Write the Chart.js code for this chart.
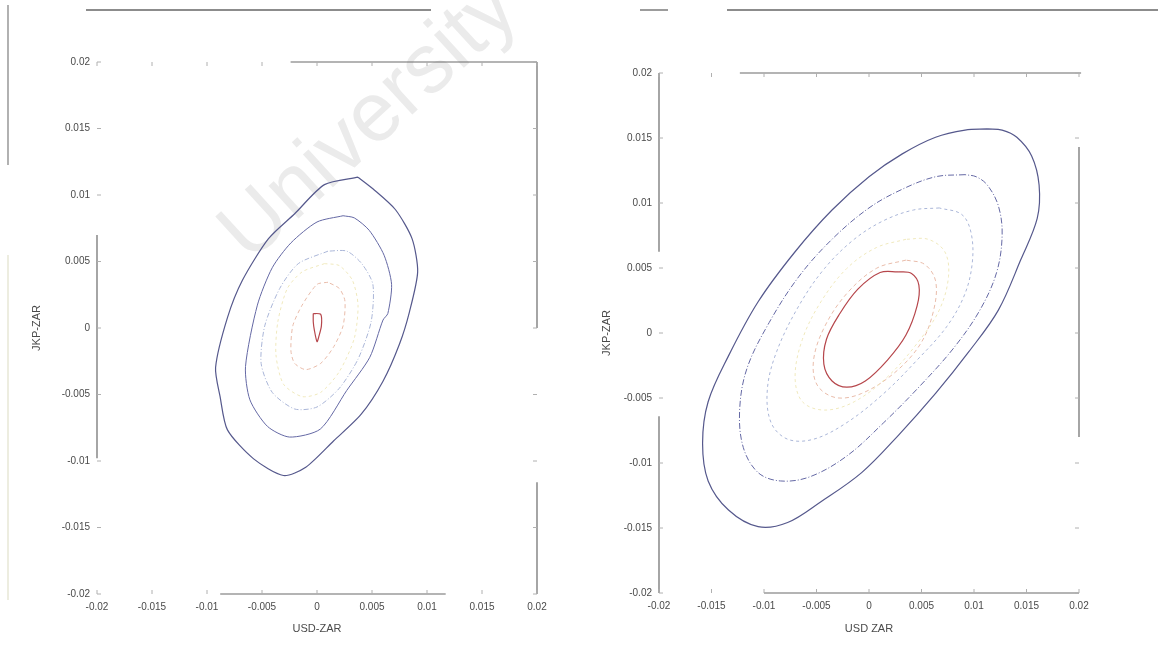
<!DOCTYPE html>
<html><head><meta charset="utf-8">
<script src="https://cdn.jsdelivr.net/npm/chart.js@4.4.0/dist/chart.umd.min.js"></script>
<style>
html,body{margin:0;padding:0;background:#fff;}
#wrap{position:relative;width:1158px;height:650px;overflow:hidden;background:#fff;}
.box{position:absolute;top:0;height:650px;}
</style></head><body>
<div id="wrap">
<div class="box" style="left:0;width:580px"><canvas id="c1"></canvas></div>
<div class="box" style="left:580px;width:578px"><canvas id="c2"></canvas></div>
</div>
<script>
// ---- tick values / labels ----
const tickValues = [-0.02,-0.015,-0.01,-0.005,0,0.005,0.01,0.015,0.02];
const tickLabels = ['-0.02','-0.015','-0.01','-0.005','0','0.005','0.01','0.015','0.02'];
const xTitleLeft = 'USD-ZAR', yTitleLeft = 'JKP-ZAR';
const xTitleRight = 'USD ZAR', yTitleRight = 'JKP-ZAR';

// ---- left panel contours (x, y) ----
const L1 = [[0.00373,0.01134],[0.00068,0.01078],[-0.00203,0.00859],[-0.00441,0.00672],[-0.00678,0.00359],[-0.00814,0.00078],[-0.00922,-0.00297],[-0.00881,-0.00516],[-0.00814,-0.00766],[-0.00576,-0.00984],[-0.00305,-0.01109],[-0.00102,-0.01047],[0.0015,-0.0085],[0.0040,-0.0065],[0.0060,-0.0040],[0.0075,-0.0012],[0.0084,0.0012],[0.00915,0.00422],[0.00864,0.00672],[0.00712,0.00891],[0.00508,0.01047]];
const L2 = [[0.00237,0.00844],[0,0.00797],[-0.00237,0.0064],[-0.00407,0.00453],[-0.00542,0.00172],[-0.0065,-0.0029],[-0.0061,-0.0054],[-0.0045,-0.0074],[-0.0025,-0.0082],[0.0003,-0.0076],[0.0027,-0.0047],[0.0048,-0.0022],[0.006,0.0006],[0.00644,0.00109],[0.00678,0.00328],[0.0061,0.00547],[0.00475,0.00734],[0.00339,0.00828]];
const L3 = [[0.001,0.00578],[-0.0017,0.00484],[-0.00339,0.00297],[-0.00475,0.00016],[-0.00508,-0.00266],[-0.00407,-0.00484],[-0.00203,-0.00609],[0,-0.00594],[0.00203,-0.00453],[0.00373,-0.00234],[0.00492,0.00047],[0.00508,0.00328],[0.00407,0.00484],[0.00271,0.00578]];
const L4 = [[0.00068,0.00484],[-0.00135,0.00422],[-0.0027,0.00297],[-0.00356,0.00047],[-0.00373,-0.00203],[-0.00305,-0.00422],[-0.00135,-0.00516],[0.00034,-0.00484],[0.00203,-0.00328],[0.00339,-0.00078],[0.00373,0.00172],[0.00322,0.00359],[0.00203,0.00469]];
const L5 = [[0.001,0.00344],[0,0.00328],[-0.00135,0.00172],[-0.0022,0.00016],[-0.00237,-0.00172],[-0.00203,-0.00266],[-0.00102,-0.00313],[0.00034,-0.00266],[0.00152,-0.00141],[0.00237,0.00016],[0.00254,0.00203],[0.00203,0.00297]];
const L6 = [[-0.00034,0.00109],[0.00034,0.00103],[0.0004,0.00016],[0.00017,-0.00063],[0,-0.00103],[-0.00024,-0.00016],[-0.00034,0.00047]];

// ---- right panel contours (x, y) ----
const R1 = [[0.01127,0.0157],[0.00915,0.01561],[0.00634,0.01506],[0.00317,0.01378],[0,0.01202],[-0.00352,0.00946],[-0.00704,0.00625],[-0.01056,0.0024],[-0.01338,-0.00176],[-0.01532,-0.00529],[-0.01585,-0.00849],[-0.01532,-0.01138],[-0.01338,-0.01362],[-0.01056,-0.0149],[-0.00775,-0.01458],[-0.00458,-0.01298],[-0.0007,-0.01074],[0.00282,-0.00785],[0.00634,-0.00465],[0.00951,-0.00144],[0.01232,0.00176],[0.01444,0.00561],[0.01602,0.00881],[0.0162,0.01138],[0.01549,0.01362],[0.01408,0.01506],[0.01268,0.01561]];
const R2 = [[0.00915,0.01218],[0.00634,0.01202],[0.00317,0.01106],[0,0.00962],[-0.00352,0.00721],[-0.00669,0.00433],[-0.00951,0.0008],[-0.01162,-0.00272],[-0.01232,-0.00593],[-0.01197,-0.00881],[-0.01056,-0.01074],[-0.00845,-0.01138],[-0.00563,-0.01106],[-0.00211,-0.00946],[0.00141,-0.00689],[0.00493,-0.00401],[0.0081,-0.00112],[0.01056,0.00176],[0.01215,0.00465],[0.01268,0.00753],[0.01232,0.00978],[0.01127,0.01138],[0.01021,0.01202]];
const R3 = [[0.00669,0.00962],[0.00423,0.00946],[0.00141,0.00865],[-0.00141,0.00721],[-0.00423,0.00497],[-0.00669,0.00208],[-0.0088,-0.00144],[-0.00968,-0.00433],[-0.00933,-0.00689],[-0.00775,-0.00817],[-0.00528,-0.00817],[-0.00211,-0.00689],[0.00141,-0.00465],[0.00458,-0.00208],[0.00739,0.00048],[0.00915,0.00304],[0.00986,0.00561],[0.00968,0.00785],[0.0088,0.00914]];
const R4 = [[0.00352,0.00721],[0.0007,0.00657],[-0.00211,0.00497],[-0.00458,0.0024],[-0.00634,-0.00048],[-0.00704,-0.00337],[-0.00634,-0.00529],[-0.00423,-0.00593],[-0.00141,-0.00529],[0.00176,-0.00337],[0.00458,-0.0008],[0.00669,0.00176],[0.00757,0.00433],[0.00722,0.00625],[0.00563,0.00721]];
const R5 = [[0.00352,0.00561],[0.0007,0.00497],[-0.00211,0.00304],[-0.00423,0.00048],[-0.00528,-0.00208],[-0.00493,-0.00401],[-0.00317,-0.00497],[-0.0007,-0.00465],[0.00246,-0.00304],[0.00493,-0.0008],[0.00616,0.00176],[0.00634,0.00401],[0.00528,0.00529]];
const R6 = [[0.00282,0.00471],[0.00106,0.00465],[-0.00106,0.00337],[-0.00282,0.00144],[-0.00405,-0.00048],[-0.0043,-0.0024],[-0.00352,-0.00369],[-0.00211,-0.00417],[-0.00035,-0.00369],[0.00176,-0.00208],[0.00352,-0.00016],[0.00458,0.00208],[0.00475,0.00369],[0.00405,0.00458]];

// ---- styling of contour levels ----
const levelColors = ['#55588c','#6468a4','#aab6d8','#f0e9bd','#e9bcaa','#b6464b'];
const leftDashes  = [[], [], [5,2,1,2], [3,3], [4,3], []];
const rightDashes = [[], [6,2,1,2], [3,3], [3,3], [4,3], []];

function closed(arr){ const d = arr.map(p=>({x:p[0],y:p[1]})); d.push({x:arr[0][0],y:arr[0][1]}); return d; }
function makeDatasets(list, tension, dashes){
  return list.map((arr,i)=>({
    data: closed(arr), showLine:true, pointRadius:0, borderWidth: i===0||i===5?1.2:1.0,
    borderColor: levelColors[i], borderDash: dashes[i], tension: tension, fill:false
  }));
}

const framePlugin = {
  id:'frame',
  beforeDatasetsDraw(chart, args, opts){
    const ctx = chart.ctx;
    if (opts.watermark){
      const w = opts.watermark;
      ctx.save();
      ctx.translate(w.cx, w.cy); ctx.rotate(w.angle);
      ctx.font = w.font; ctx.fillStyle = '#ebebeb'; ctx.textAlign='center'; ctx.textBaseline='middle';
      ctx.fillText(w.text, 0, 0);
      ctx.restore();
    }
  },
  afterDatasetsDraw(chart, args, opts){
    const ctx = chart.ctx, xs = chart.scales.x, ys = chart.scales.y;
    ctx.save();
    ctx.strokeStyle = '#6a6a6a'; ctx.lineWidth = 1.2;
    (opts.segments||[]).forEach(s=>{
      ctx.beginPath();
      ctx.moveTo(xs.getPixelForValue(s[0]), ys.getPixelForValue(s[1]));
      ctx.lineTo(xs.getPixelForValue(s[2]), ys.getPixelForValue(s[3]));
      ctx.stroke();
    });
    ctx.strokeStyle = '#b0b0b0'; ctx.lineWidth = 1;
    const a = chart.chartArea;
    tickValues.forEach(v=>{
      const px = xs.getPixelForValue(v), py = ys.getPixelForValue(v);
      ctx.beginPath();
      ctx.moveTo(px, a.bottom); ctx.lineTo(px, a.bottom-4);
      ctx.moveTo(px, a.top); ctx.lineTo(px, a.top+4);
      ctx.moveTo(a.left, py); ctx.lineTo(a.left+4, py);
      ctx.moveTo(a.right, py); ctx.lineTo(a.right-4, py);
      ctx.stroke();
    });
    ctx.lineWidth = 1.3;
    (opts.pageLines||[]).forEach(s=>{
      ctx.strokeStyle = s[4]||'#555';
      ctx.beginPath(); ctx.moveTo(s[0],s[1]); ctx.lineTo(s[2],s[3]); ctx.stroke();
    });
    ctx.restore();
  }
};

const FONT = "'Liberation Sans Narrow','Liberation Sans',Arial,sans-serif";
function axisCfg(title, axis, fixedSize, titlePad){
  return {
    type:'linear', min:-0.02, max:0.02,
    afterBuildTicks(sc){ sc.ticks = tickValues.map(v=>({value:v})); },
    afterFit(sc){ if(axis==='x') sc.height = fixedSize; else sc.width = fixedSize; },
    grid:{display:false, drawTicks:false}, border:{display:false},
    ticks:{ autoSkip:false, maxRotation:0, padding:7, color:'#4a4a4a',
      font:{family:FONT,size:10},
      callback(v){ const k = tickValues.indexOf(v); return k>=0 ? tickLabels[k] : ''; } },
    title:{display:true, text:title, color:'#4a4a4a', font:{family:FONT,size:11}, padding:titlePad}
  };
}

function makeChart(id, datasets, layout, xTitle, yTitle, frameOpts){
  return new Chart(document.getElementById(id), {
    type:'scatter',
    data:{datasets: datasets},
    options:{
      responsive:true, maintainAspectRatio:false, animation:false,
      layout:{padding:layout.padding},
      scales:{ x: axisCfg(xTitle,'x',layout.xh,{top:2,bottom:14}), y: axisCfg(yTitle,'y',layout.yw,{top:0,bottom:0}) },
      plugins:{legend:{display:false}, tooltip:{enabled:false}, frame: frameOpts}
    },
    plugins:[framePlugin]
  });
}

makeChart('c1', makeDatasets([L1,L2,L3,L4,L5,L6],0.25,leftDashes),
  {padding:{left:30,top:62,right:43,bottom:0}, yw:67, xh:56},
  xTitleLeft, yTitleLeft,
  { segments:[[-0.0024,0.02,0.02,0.02],[0.02,0.02,0.02,0.0],[0.02,-0.0116,0.02,-0.02],[-0.0088,-0.02,0.0117,-0.02],[-0.02,0.007,-0.02,-0.0098]],
    pageLines:[[86,10,431,10,'#666'],[8,5,8,165,'#888'],[8,255,8,600,'#e4e4d0']],
    watermark:{text:'University', cx:370, cy:122, angle:-0.74, font:"84px 'Liberation Sans',Arial,sans-serif"} });

makeChart('c2', makeDatasets([R1,R2,R3,R4,R5,R6],0.35,rightDashes),
  {padding:{left:20,top:73,right:79,bottom:0}, yw:59, xh:57},
  xTitleRight, yTitleRight,
  { segments:[[-0.0123,0.02,0.0202,0.02],[0.02,0.0143,0.02,-0.008],[-0.01,-0.02,0.02,-0.02],[-0.02,0.02,-0.02,0.00625],[-0.02,-0.0064,-0.02,-0.02]],
    pageLines:[[60,10,88,10,'#666'],[147,10,578,10,'#666']] });
</script>
</body></html>
